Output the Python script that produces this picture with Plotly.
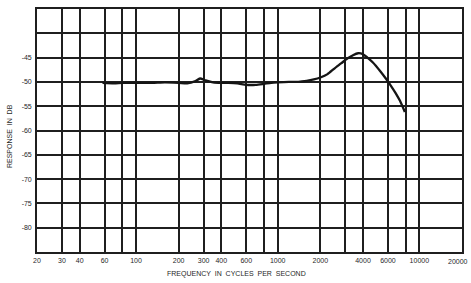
import plotly.graph_objects as go

# Data
freq_hz = [58, 70, 80, 100, 130, 160, 200, 230, 260, 283, 310, 350, 400, 450, 520,
           600, 700, 800, 900, 1000, 1200, 1400, 1600, 1800, 2000, 2250, 2500, 2800,
           3100, 3400, 3700, 4000, 4300, 4700, 5300, 5800, 6300, 6800, 7300, 7900]
response_db = [-50.2, -50.3, -50.2, -50.2, -50.2, -50.1, -50.2, -50.3, -49.9, -49.3, -49.7, -50.1, -50.2, -50.2, -50.3,
               -50.6, -50.6, -50.4, -50.2, -50.1, -50.0, -50.0, -49.8, -49.5, -49.1, -48.4, -47.3, -46.2,
               -45.2, -44.5, -44.1, -44.3, -45.0, -46.0, -47.8, -49.3, -50.8, -52.3, -53.9, -56.2]

x_tick_vals = [20, 30, 40, 60, 100, 200, 300, 400, 600, 1000, 2000, 4000, 6000, 10000]
x_tick_text = ["20", "30", "40", "60", "100", "200", "300", "400", "600", "1000", "2000",
               "4000", "6000", "10000"]
x_last_label = "20000"
x_minor_vals = [80, 800, 3000, 8000]
y_tick_vals = [-45, -50, -55, -60, -65, -70, -75, -80]
y_tick_text = ["-45", "-50", "-55", "-60", "-65", "-70", "-75", "-80"]
y_minor_vals = [-40]

ink = "#1f1f1f"
font_family = "Liberation Sans, Arial, sans-serif"

fig = go.Figure()
fig.add_trace(go.Scatter(x=freq_hz, y=response_db, mode="lines",
                         line=dict(color="#151515", width=2.3, shape="spline", smoothing=0.6),
                         showlegend=False, hoverinfo="skip"))

fig.update_layout(
    width=471, height=283,
    margin=dict(l=37, r=9, t=9, b=31, autoexpand=False),
    paper_bgcolor="white", plot_bgcolor="white",
    font=dict(family=font_family, size=7, color=ink),
    xaxis=dict(type="log", range=[1.30103, 4.30103], automargin=False,
               tickmode="array", tickvals=x_tick_vals, ticktext=x_tick_text,
               showgrid=True, gridcolor=ink, gridwidth=1.6,
               minor=dict(tickmode="array", tickvals=x_minor_vals, showgrid=True,
                          gridcolor=ink, gridwidth=1.6, ticks=""),
               showline=True, linecolor=ink, linewidth=1.7, mirror=True,
               ticks="", ticklabelstandoff=1, zeroline=False,
               tickfont=dict(size=7, color=ink)),
    yaxis=dict(range=[-85, -35], automargin=False,
               tickmode="array", tickvals=y_tick_vals, ticktext=y_tick_text,
               showgrid=True, gridcolor=ink, gridwidth=1.6,
               minor=dict(tickmode="array", tickvals=y_minor_vals, showgrid=True,
                          gridcolor=ink, gridwidth=1.6, ticks=""),
               showline=True, linecolor=ink, linewidth=1.7, mirror=True,
               ticks="", ticklabelstandoff=2, zeroline=False,
               tickfont=dict(size=7, color=ink)),
    annotations=[
        dict(text="RESPONSE  IN  DB", xref="paper", yref="paper", x=0, y=0.477,
             xanchor="center", yanchor="middle", xshift=-28, textangle=-90,
             showarrow=False, font=dict(size=7, color=ink)),
        dict(text="FREQUENCY  IN  CYCLES  PER  SECOND", xref="paper", yref="paper",
             x=0.469, y=0, xanchor="center", yanchor="middle", yshift=-22,
             showarrow=False, font=dict(size=7, color=ink)),
        dict(text=x_last_label, xref="paper", yref="paper", x=1, y=0,
             xanchor="right", yanchor="top", xshift=8, yshift=-4,
             showarrow=False, font=dict(size=7, color=ink)),
    ],
)

fig.write_html("out.html", config={"displayModeBar": False},
               post_script="document.body.style.margin='0px';")
